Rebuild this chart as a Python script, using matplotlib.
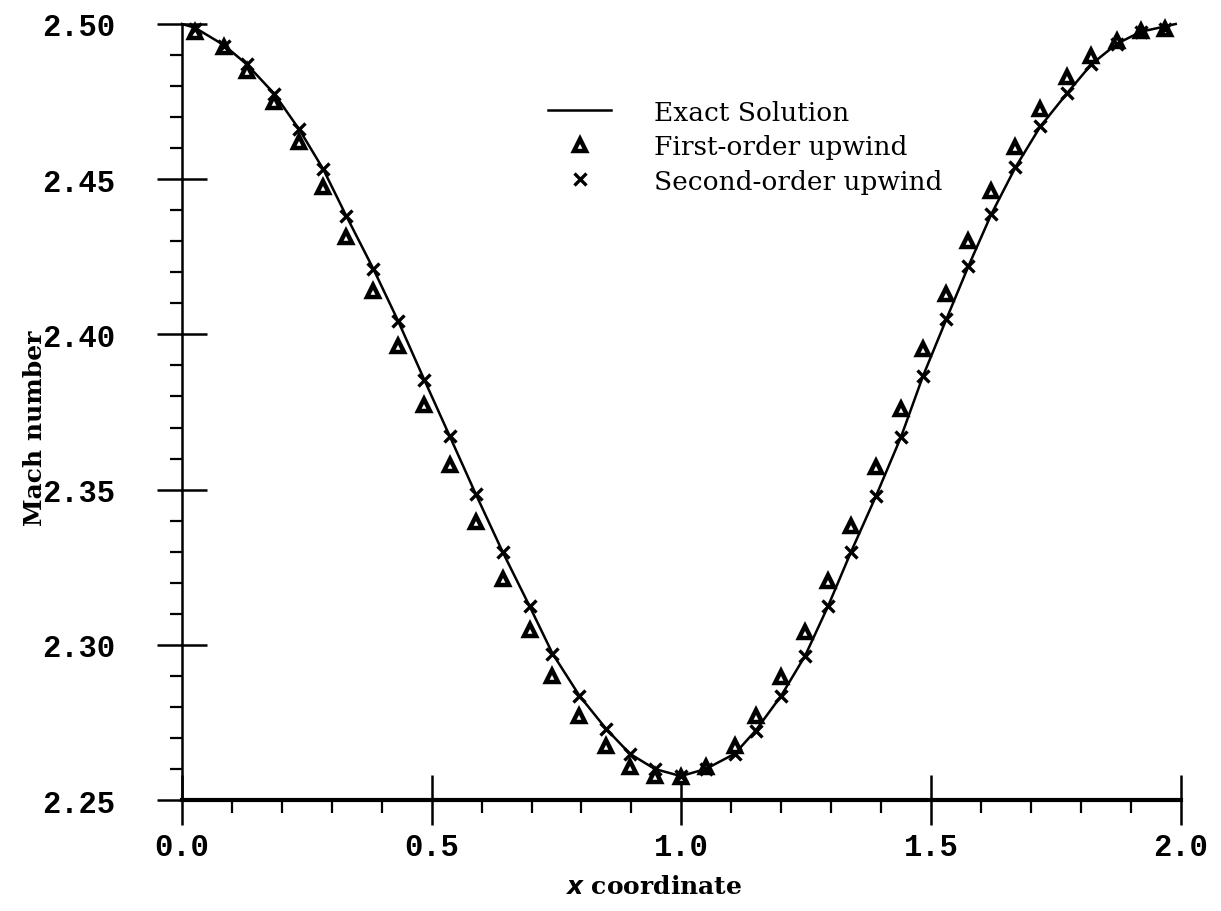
import matplotlib.pyplot as plt
from matplotlib.ticker import MultipleLocator, FormatStrFormatter

# cell centres along the nozzle
x_cells = [0.026, 0.084, 0.130, 0.185, 0.235, 0.283, 0.329, 0.383, 0.433, 0.485,
           0.536, 0.588, 0.642, 0.696, 0.742, 0.796, 0.849, 0.897, 0.947, 0.999,
           1.049, 1.107, 1.149, 1.200, 1.248, 1.294, 1.340, 1.390, 1.440, 1.484,
           1.531, 1.575, 1.621, 1.669, 1.719, 1.773, 1.821, 1.872, 1.920, 1.968]

# exact solution
exact_x = [0.0] + x_cells + [1.99]
exact_mach = [2.5000, 2.4988, 2.4932, 2.4870, 2.4775, 2.4660, 2.4532, 2.4382, 2.4212, 2.4043,
              2.3855, 2.3673, 2.3487, 2.3300, 2.3125, 2.2972, 2.2836, 2.2730, 2.2649, 2.2600,
              2.2577, 2.2600, 2.2649, 2.2724, 2.2836, 2.2965, 2.3125, 2.3300, 2.3480, 2.3670,
              2.3866, 2.4050, 2.4220, 2.4388, 2.4538, 2.4670, 2.4778, 2.4870, 2.4936, 2.4975,
              2.4992, 2.5000]

# first-order upwind
first_order = [2.4974, 2.4926, 2.4849, 2.4749, 2.4620, 2.4475, 2.4314, 2.4140, 2.3963, 2.3773,
               2.3579, 2.3396, 2.3212, 2.3048, 2.2900, 2.2771, 2.2674, 2.2606, 2.2577, 2.2574,
               2.2606, 2.2674, 2.2771, 2.2896, 2.3041, 2.3206, 2.3383, 2.3573, 2.3760, 2.3953,
               2.4130, 2.4301, 2.4462, 2.4604, 2.4726, 2.4829, 2.4897, 2.4945, 2.4977, 2.4984]

# second-order upwind
second_order = [2.4984, 2.4929, 2.4871, 2.4774, 2.4662, 2.4533, 2.4381, 2.4211, 2.4043, 2.3853,
                2.3673, 2.3486, 2.3299, 2.3125, 2.2970, 2.2835, 2.2729, 2.2648, 2.2600, 2.2577,
                2.2600, 2.2648, 2.2722, 2.2835, 2.2964, 2.3125, 2.3299, 2.3479, 2.3669, 2.3866,
                2.4050, 2.4220, 2.4388, 2.4539, 2.4671, 2.4778, 2.4871, 2.4936, 2.4974, 2.4984]

fig = plt.figure(figsize=(12.21, 9.12), dpi=100)
ax = fig.add_axes([0.149, 0.1217, 0.818, 0.8509])

ax.plot(exact_x, exact_mach, color='black', lw=1.8, label='Exact Solution', clip_on=False)
ax.plot(x_cells, first_order, ls='none', marker='^', ms=9, mfc='white', mec='black', mew=3.2,
        label='First-order upwind', clip_on=False)
ax.plot(x_cells, second_order, ls='none', marker='x', ms=9, mec='black', mew=2.4,
        label='Second-order upwind', clip_on=False)

ax.set_xlim(0, 2)
ax.set_ylim(2.25, 2.50)

# axes: only left and bottom, ticks crossing the lines
ax.spines['top'].set_visible(False)
ax.spines['right'].set_visible(False)
ax.spines['left'].set_linewidth(1.8)
ax.spines['bottom'].set_linewidth(3)

ax.xaxis.set_major_locator(MultipleLocator(0.5))
ax.xaxis.set_minor_locator(MultipleLocator(0.1))
ax.yaxis.set_major_locator(MultipleLocator(0.05))
ax.yaxis.set_minor_locator(MultipleLocator(0.01))
ax.xaxis.set_major_formatter(FormatStrFormatter('%.1f'))
ax.yaxis.set_major_formatter(FormatStrFormatter('%.2f'))

ax.tick_params(which='major', direction='inout', length=36, width=1.8, color='black')
ax.tick_params(which='minor', direction='out', length=9, width=1.6, color='black')
ax.tick_params(axis='x', which='major', pad=5)
ax.tick_params(axis='y', which='major', pad=30)

for lab in ax.get_xticklabels() + ax.get_yticklabels():
    lab.set_family('Liberation Mono')
    lab.set_fontsize(22)
    lab.set_fontweight('bold')

ax.set_xlabel(r'$\boldsymbol{x}$ coordinate', family='DejaVu Serif', fontsize=18, fontweight='bold')
ax.set_ylabel('Mach number', family='DejaVu Serif', fontsize=18, fontweight='bold')
ax.xaxis.set_label_coords(0.472, -0.095)
ax.yaxis.set_label_coords(-0.135, 0.48)

ax.legend(loc='upper left', bbox_to_anchor=(0.356, 0.916), frameon=False,
          prop={'family': 'DejaVu Serif', 'size': 19}, handlelength=2.4,
          handletextpad=1.6, labelspacing=0.36, borderaxespad=0)

fig.savefig('out.png', dpi=100)
